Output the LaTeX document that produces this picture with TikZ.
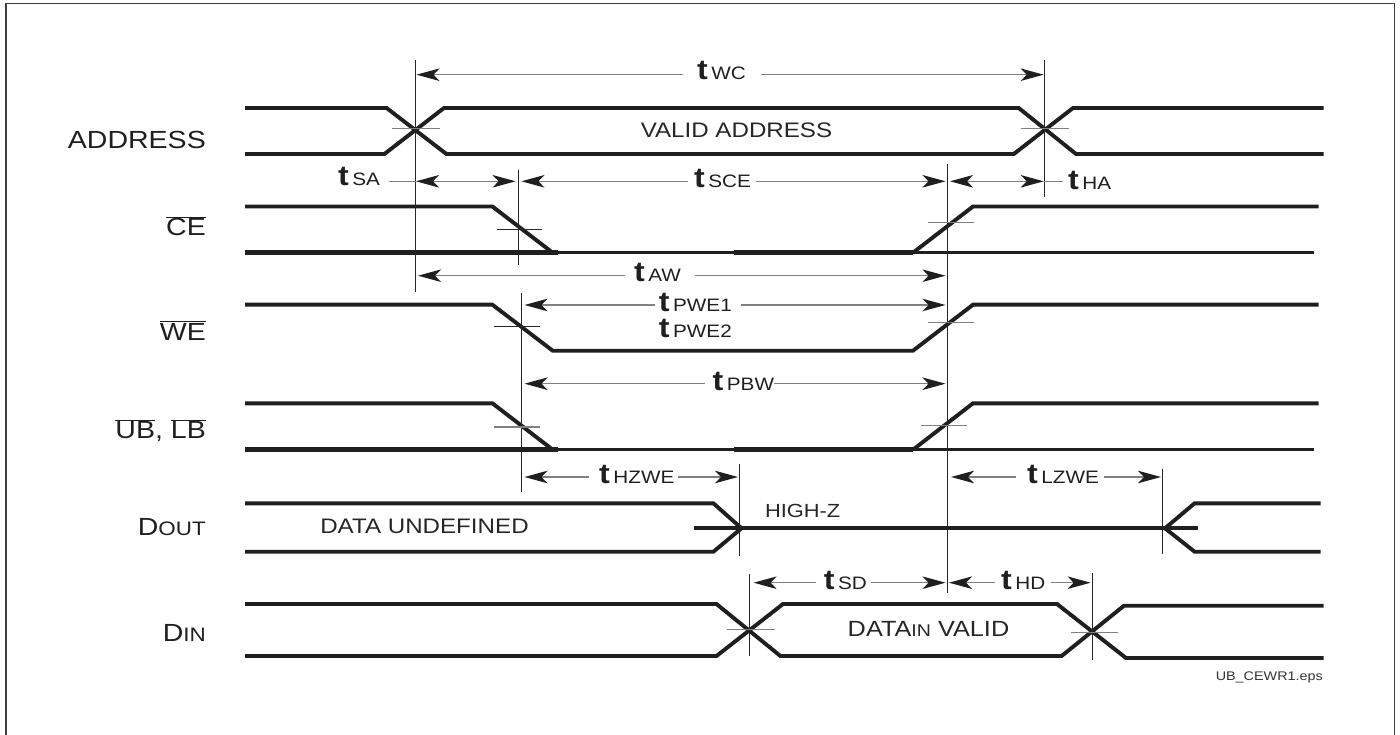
\documentclass[tikz,border=0pt]{standalone}
\usepackage{fontspec}
\setmainfont[FakeStretch=1.15]{Liberation Sans}
\usetikzlibrary{arrows.meta}
\newcommand\tsy[1]{{\fontsize{28}{27}\selectfont\bfseries t}\kern3.5pt{\fontsize{18}{17}\selectfont #1}}
\newcommand\lab[1]{\fontsize{24.8}{24}\selectfont #1}
\newcommand\ovl[1]{\ensuremath{\overline{\mbox{#1}}}}
\tikzset{
 wave/.style={draw=black!88,line width=3.9pt},
 wavethin/.style={draw=black!88,line width=3.3pt},
 wavethick/.style={draw=black!88,line width=4.7pt},
 guide/.style={draw=black!85,line width=1pt},
 tick/.style={draw=black!50,line width=1.2pt},
 dim/.style={draw=black!50,line width=1.5pt},
 tipL/.style={{Stealth[length=23pt,width=12.5pt,inset=6pt,black!88]}-},
 tipR/.style={-{Stealth[length=23pt,width=12.5pt,inset=6pt,black!88]}},
 tipB/.style={{Stealth[length=23pt,width=12.5pt,inset=6pt,black!88]}-{Stealth[length=23pt,width=12.5pt,inset=6pt,black!88]}},
 tlab/.style={anchor=base west,inner sep=0pt,text=black!88},
 siglab/.style={anchor=base east,inner sep=0pt,text=black!88},
 txt/.style={anchor=base,inner sep=0pt,text=black!85,font=\fontsize{21}{21}\selectfont},
}
\begin{document}
\begin{tikzpicture}[x=1pt,y=-1pt]
\useasboundingbox (0,0) rectangle (1400,735);
\draw[draw=black!75,line width=1.2pt] (6,740) -- (6,3.5) -- (1394.5,3.5) -- (1394.5,740);
% signal names
\node[siglab] (sAddr) at (206,149) {\lab{ADDRESS}};
\node[siglab] (sCE) at (206,236) {\lab{\ovl{CE}}};
\node[siglab] (sWE) at (206,340) {\lab{\ovl{WE}}};
\node[siglab] (sUB) at (206,438.3) {\lab{\ovl{UB}, \ovl{LB}}};
\node[siglab] (sDout) at (206,535.3) {\lab{D{\fontsize{19.5}{18}\selectfont OUT}}};
\node[siglab] (sDin) at (206,641) {\lab{D{\fontsize{19.5}{18}\selectfont IN}}};
% ADDRESS
\draw[wave] (245,108) -- (386.6,108) -- (446.4,154) -- (1013.8,154) -- (1073,108) -- (1323.6,108);
\draw[wave] (245,154) -- (384.4,154) -- (444,108) -- (1018.7,108) -- (1076,154) -- (1323.6,154);
% CE
\draw[wave] (245,206.5) -- (492.4,206.5) -- (552.7,252.7);
\draw[wavethin] (552.7,252.7) -- (1314,252.7);
\draw[wavethick] (245,252.7) -- (558,252.7);
\draw[wavethick] (733.5,252.7) -- (913,252.7);
\draw[wave] (913,252.7) -- (973,206.5) -- (1318.7,206.5);
% WE
\draw[wave] (245,304.7) -- (492.4,304.7) -- (552.7,350.7) -- (913,350.7) -- (973,304.7) -- (1318.7,304.7);
% UB LB
\draw[wave] (245,403.3) -- (492.4,403.3) -- (552.7,449.7);
\draw[wavethin] (552.7,449.7) -- (1314,449.7);
\draw[wavethick] (245,449.7) -- (558,449.7);
\draw[wavethick] (733.5,449.7) -- (913,449.7);
\draw[wave] (913,449.7) -- (973,403.3) -- (1318.7,403.3);
% DOUT
\draw[wave] (245,503.3) -- (713.4,503.3) -- (741.5,528.3) -- (713.4,551.7) -- (245,551.7);
\draw[wave] (694,528.3) -- (1198,528.3);
\draw[wave] (1320.5,503.3) -- (1194.6,503.3) -- (1165,528.3) -- (1194.6,551.7) -- (1320.5,551.7);
% DIN
\draw[wave] (245,604) -- (716.5,604) -- (780.4,656) -- (1061.6,656) -- (1124,605.7) -- (1323.6,605.7);
\draw[wave] (245,656) -- (716.5,656) -- (783,604) -- (1057,604) -- (1126,658) -- (1323.6,658);
% guide lines
\draw[guide] (415.6,60) -- (415.6,292);
\draw[guide] (1044.6,60) -- (1044.6,196.7);
\draw[guide] (518.7,170) -- (518.7,265);
\draw[guide] (521,293) -- (521,491.7);
\draw[guide] (947.3,164) -- (947.3,593);
\draw[guide] (739.3,464) -- (739.3,555.7);
\draw[guide] (1162,469) -- (1162,554.3);
\draw[guide] (749.6,574) -- (749.6,656.3);
\draw[guide] (1092,573) -- (1092,659.7);
% crossing ticks
\draw[tick] (391.5,128.7) -- (440,128.7);
\draw[tick] (1020.5,128.7) -- (1068.7,128.7);
\draw[guide] (497,229.3) -- (542,229.3);
\draw[tick] (928,222.3) -- (973.7,222.3);
\draw[guide] (494,326.7) -- (540,326.7);
\draw[tick] (928,322.7) -- (973.7,322.7);
\draw[tick] (494,427) -- (540,427);
\draw[tick] (921.4,425.7) -- (967,425.7);
\draw[tick] (726.8,629.7) -- (774.6,629.7);
\draw[tick] (1070.5,632.7) -- (1118.3,632.7);
% arrow end points
\coordinate (aWCl) at (416.5,74.7);
\coordinate (aWCr) at (1043.7,74.7);
\coordinate (aSAl) at (416,181.3);
\coordinate (aSAr) at (515.6,181.3);
\coordinate (aSCEl) at (521.4,181.3);
\coordinate (aSCEr) at (945.5,181.3);
\coordinate (aHAl) at (950,181.3);
\coordinate (aHAr) at (1043.7,181.3);
\coordinate (aAWl) at (418,275.7);
\coordinate (aAWr) at (945.5,275.7);
\coordinate (aPl) at (524.5,305);
\coordinate (aPr) at (945.5,305);
\coordinate (aBl) at (524.5,383.7);
\coordinate (aBr) at (945.5,383.7);
\coordinate (aHZl) at (524.5,477);
\coordinate (aHZr) at (738,477);
\coordinate (aLZl) at (951,477);
\coordinate (aLZr) at (1161,477);
\coordinate (aSDl) at (753.6,582.7);
\coordinate (aSDr) at (945.5,582.7);
\coordinate (aHDl) at (949,582.7);
\coordinate (aHDr) at (1090.6,582.7);
% timing labels
\node[tlab] (tWC) at (697,79.3) {\tsy{WC}};
\node[tlab] (tSA) at (338,186) {\tsy{SA}};
\node[tlab] (tSCE) at (694,187.7) {\tsy{SCE}};
\node[tlab] (tHA) at (1068,190) {\tsy{HA}};
\node[tlab] (tAW) at (634,282) {\tsy{AW}};
\node[tlab] (tP1) at (658.7,311.7) {\tsy{PWE1}};
\node[tlab] (tP2) at (658.7,337.3) {\tsy{PWE2}};
\node[tlab] (tPBW) at (712.5,390) {\tsy{PBW}};
\node[tlab] (tHZ) at (599,483.3) {\tsy{HZWE}};
\node[tlab] (tLZ) at (1027,483.3) {\tsy{LZWE}};
\node[tlab] (tSD) at (823.7,589.3) {\tsy{SD}};
\node[tlab] (tHD) at (1001,589.3) {\tsy{HD}};
% dimension arrows
\draw[dim,tipL] (aWCl) -- ([xshift=-14pt]tWC.base west |- aWCl);
\draw[dim,tipR] ([xshift=14.6pt]tWC.base east |- aWCr) -- (aWCr);
\draw[dim] ([xshift=9pt]tSA.base east |- aSAl) -- (aSAl);
\draw[dim,tipB] (aSAl) -- (aSAr);
\draw[dim,tipL] (aSCEl) -- ([xshift=-6pt]tSCE.base west |- aSCEl);
\draw[dim,tipR] ([xshift=5pt]tSCE.base east |- aSCEr) -- (aSCEr);
\draw[dim,tipB] (aHAl) -- (aHAr);
\draw[dim] (aHAr) -- ([xshift=-5.5pt]tHA.base west |- aHAr);
\draw[dim,tipL] (aAWl) -- ([xshift=-9pt]tAW.base west |- aAWl);
\draw[dim,tipR] ([xshift=14pt]tAW.base east |- aAWr) -- (aAWr);
\draw[dim,tipL] (aPl) -- ([xshift=-4pt]tP1.base west |- aPl);
\draw[dim,tipR] ([xshift=9pt]tP1.base east |- aPr) -- (aPr);
\draw[dim,tipL] (aBl) -- ([xshift=-8pt]tPBW.base west |- aBl);
\draw[dim,tipR] (tPBW.base east |- aBr) -- (aBr);
\draw[dim,tipL] (aHZl) -- ([xshift=-10pt]tHZ.base west |- aHZl);
\draw[dim,tipR] ([xshift=3.5pt]tHZ.base east |- aHZr) -- (aHZr);
\draw[dim,tipL] (aLZl) -- ([xshift=-11pt]tLZ.base west |- aLZl);
\draw[dim,tipR] ([xshift=5pt]tLZ.base east |- aLZr) -- (aLZr);
\draw[dim,tipL] (aSDl) -- ([xshift=-8pt]tSD.base west |- aSDl);
\draw[dim,tipR] ([xshift=4pt]tSD.base east |- aSDr) -- (aSDr);
\draw[dim,tipL] (aHDl) -- ([xshift=-6pt]tHD.base west |- aHDl);
\draw[dim,tipR] ([xshift=5pt]tHD.base east |- aHDr) -- (aHDr);
% texts
\node[txt] (tVA) at (736.5,137.3) {VALID ADDRESS};
\node[txt] (tDU) at (424.5,533.3) {DATA UNDEFINED};
\node[txt,font=\fontsize{19}{19}\selectfont] (tHZt) at (802.7,517) {HIGH-Z};
\node[txt,font=\fontsize{22}{22}\selectfont] (tDV) at (928.5,636) {DATA{\fontsize{17}{14}\selectfont IN} VALID};
\node[inner sep=0pt,anchor=base east,text=black!80,font=\fontsize{12.5}{12}\selectfont] (tF) at (1323,680.7) {UB\_CEWR1.eps};
\end{tikzpicture}
\end{document}
